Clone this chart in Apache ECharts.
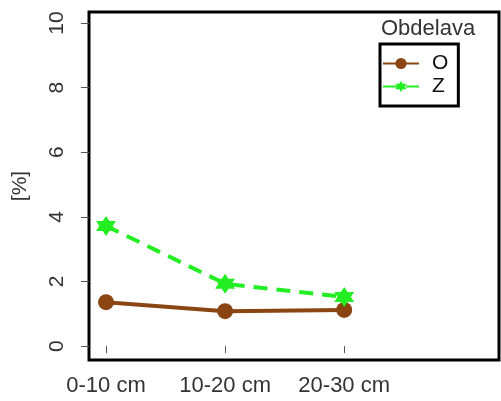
<!DOCTYPE html>
<html>
<head>
<meta charset="utf-8">
<script src="https://cdn.jsdelivr.net/npm/echarts@6/dist/echarts.min.js"></script>
<style>
  html, body { margin: 0; padding: 0; background: #fff; }
  #chart { width: 501px; height: 401px; }
</style>
</head>
<body>
<div id="chart"></div>
<script>
// Data
const categories = ["0-10 cm", "10-20 cm", "20-30 cm"];
const valuesO = [1.36, 1.08, 1.12];
const valuesZ = [3.72, 1.93, 1.52];
const yTicks = [0, 2, 4, 6, 8, 10];

const font = "Liberation Sans";
const starPath = "path://M0,-10 L2.9,-5 L8.66,-5 L5.8,0 L8.66,5 L2.9,5 L0,10 L-2.9,5 L-8.66,5 L-5.8,0 L-8.66,-5 L-2.9,-5 Z";

const chart = echarts.init(document.getElementById("chart"), null, { renderer: "canvas" });

const option = {
  animation: false,
  backgroundColor: "#fff",
  grid: {
    left: 89, right: 2, top: 12, bottom: 41,
    outerBoundsMode: "none",
    show: true, borderColor: "#000", borderWidth: 3, backgroundColor: "transparent"
  },
  xAxis: {
    type: "value",
    min: 0.857, max: 4.30,
    axisLine: { show: false },
    splitLine: { show: false },
    axisTick: { show: true, length: 7, lineStyle: { color: "#555" }, customValues: [1, 2, 3] },
    axisLabel: {
      customValues: [1, 2, 3],
      formatter: (v) => categories[Math.round(v) - 1] || "",
      fontFamily: font, fontSize: 22, color: "#333", margin: 15
    }
  },
  yAxis: {
    type: "value",
    min: -0.43, max: 10.34,
    name: "[%]",
    nameLocation: "middle",
    nameGap: 58,
    nameRotate: 90,
    nameTextStyle: { fontFamily: font, fontSize: 21, color: "#333" },
    axisLine: { show: false },
    splitLine: { show: false },
    axisTick: { show: true, length: 8, lineStyle: { color: "#555" }, customValues: yTicks },
    axisLabel: {
      customValues: yTicks,
      rotate: 90,
      fontFamily: font, fontSize: 21, color: "#333", margin: 21
    }
  },
  legend: {
    orient: "vertical",
    left: 380, top: 44,
    padding: [9, 10, 9, 2],
    borderColor: "#000", borderWidth: 3,
    itemWidth: 36, itemHeight: 14, itemGap: 2,
    textStyle: { fontFamily: font, fontSize: 21, color: "#111", padding: [0, 0, 0, 8] },
    data: ["O", "Z"]
  },
  graphic: [{
    type: "text", left: 381, top: 18,
    style: { text: "Obdelava", font: "22px Liberation Sans", fill: "#333" }
  }],
  series: [
    {
      name: "O", type: "line",
      data: valuesO.map((v, i) => [i + 1, v]),
      color: "#8b4513",
      symbol: "circle", symbolSize: 16,
      lineStyle: { width: 4, color: "#8b4513" },
      itemStyle: { color: "#8b4513" }
    },
    {
      name: "Z", type: "line",
      data: valuesZ.map((v, i) => [i + 1, v]),
      color: "#22ee22",
      symbol: starPath, symbolSize: 20,
      lineStyle: { width: 4, type: [14, 9], color: "#22ee22" },
      itemStyle: { color: "#22ee22" }
    }
  ]
};

chart.setOption(option);
</script>
</body>
</html>
